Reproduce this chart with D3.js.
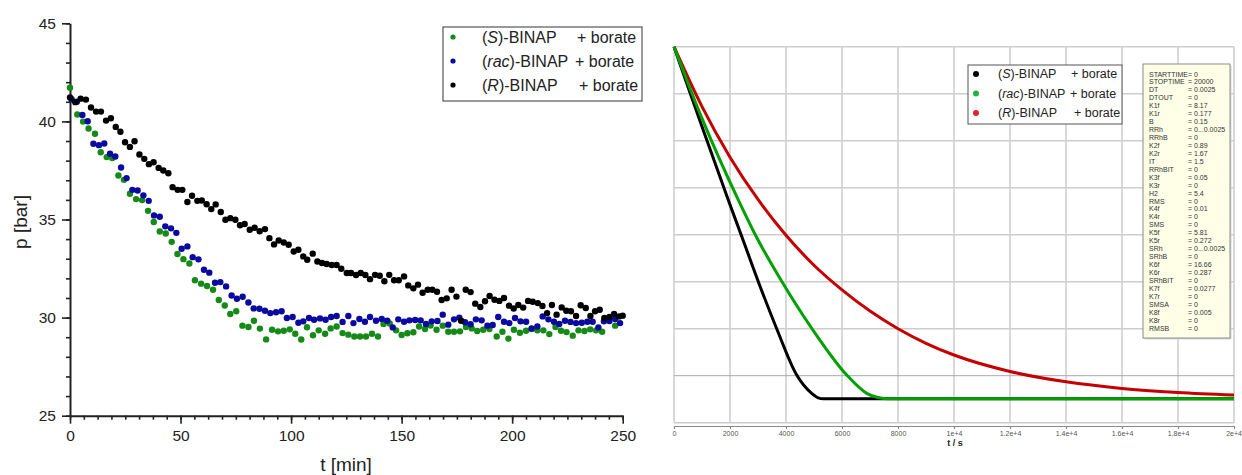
<!DOCTYPE html>
<html>
<head>
<meta charset="utf-8">
<script src="https://cdn.jsdelivr.net/npm/d3@7"></script>
<style>
    body { margin: 0; background: #fff; }
    svg { display: block; font-family: "Liberation Sans", Arial, sans-serif; }
</style>
</head>
<body>
<div id="chart"></div>
<script>
// ---- measured pressure, [t (min), p (bar)] ----
const sBinap = [
    [0, 41.72], [3.3, 40.35], [5.9, 39.99], [8.4, 39.64], [11.3, 39.37], [13.9, 38.43], [16.6, 38.18],
    [19.1, 38.13], [21.9, 37.24], [24.4, 37.02], [27.1, 36.31], [29.9, 36.04], [32.6, 35.99], [35.3, 35.44],
    [37.9, 34.87], [40.6, 34.39], [43.3, 34.29], [46.0, 33.86], [48.6, 33.24], [51.3, 32.98], [54.0, 32.76],
    [56.5, 31.90], [59.3, 31.73], [62.0, 31.61], [64.7, 31.42], [67.3, 30.90], [70.0, 30.62], [72.5, 30.18],
    [75.2, 30.32], [78.0, 29.59], [80.7, 29.52], [83.2, 29.84], [85.9, 29.44], [88.7, 28.89], [91.4, 29.38],
    [94.1, 29.30], [96.7, 29.33], [99.4, 29.40], [101.9, 29.18], [104.6, 28.88], [107.2, 29.51], [109.9, 29.10],
    [112.5, 29.35], [115.4, 29.18], [117.9, 29.45], [120.6, 29.55], [123.3, 29.21], [125.9, 29.13], [128.6, 29.04],
    [131.2, 29.04], [133.9, 29.04], [136.6, 29.18], [139.3, 29.04], [141.8, 29.68], [144.6, 29.70], [147.5, 29.35],
    [150.0, 29.11], [152.6, 29.20], [155.3, 29.25], [157.9, 29.55], [160.6, 29.42], [163.1, 29.60], [165.8, 29.38],
    [168.6, 29.59], [171.1, 29.28], [173.7, 29.28], [176.4, 29.30], [179.1, 29.52], [181.7, 29.45], [184.2, 29.32],
    [186.9, 29.38], [189.7, 29.42], [193.0, 29.04], [195.6, 29.28], [198.3, 28.93], [200.8, 29.38], [203.5, 29.23],
    [206.3, 29.33], [208.8, 29.42], [211.4, 29.35], [214.1, 29.35], [216.8, 29.16], [219.6, 29.52], [222.1, 29.33],
    [224.6, 29.26], [227.4, 29.08], [230.0, 29.35], [232.7, 29.32], [235.3, 29.40], [238.0, 29.35], [240.7, 29.28],
    [246.6, 29.59]
];

const racBinap = [
    [0.75, 41.13], [3.1, 41.0], [5.6, 40.33], [8.0, 40.01], [10.6, 38.86], [13.1, 38.79], [15.5, 38.87],
    [18.1, 38.35], [20.5, 38.21], [23.1, 37.65], [25.6, 37.11], [28.2, 36.51], [30.6, 36.48], [33.2, 36.23],
    [35.6, 35.95], [38.0, 35.21], [40.6, 35.14], [43.1, 34.65], [45.7, 34.55], [48.1, 34.32], [50.5, 33.51],
    [53.1, 33.63], [55.5, 33.08], [58.1, 32.97], [60.6, 32.44], [63.0, 32.29], [65.6, 31.78], [68.0, 31.81],
    [70.6, 31.59], [73.1, 31.13], [75.5, 30.96], [78.1, 31.06], [80.7, 30.77], [83.1, 30.47], [85.7, 30.45],
    [88.2, 30.35], [90.6, 30.23], [93.2, 30.27], [95.7, 30.32], [98.1, 29.98], [100.7, 30.03], [103.3, 29.74],
    [105.5, 29.81], [108.1, 29.98], [110.4, 29.89], [113.1, 29.96], [115.6, 29.89], [118.1, 30.03], [120.6, 30.08],
    [123.3, 29.78], [125.9, 30.08], [128.2, 29.72], [130.9, 29.93], [133.4, 29.79], [135.7, 30.03], [138.4, 29.84],
    [141.0, 29.93], [143.5, 29.84], [146.0, 29.50], [148.5, 29.91], [151.1, 29.79], [153.5, 29.86], [156.1, 29.88],
    [158.6, 29.86], [161.0, 29.67], [163.6, 29.81], [166.2, 29.83], [168.6, 30.15], [171.1, 29.64], [173.7, 29.91],
    [176.1, 30.00], [178.7, 29.76], [181.2, 29.66], [183.6, 29.91], [186.2, 29.86], [188.8, 29.59], [191.2, 29.62],
    [193.7, 30.03], [196.3, 29.79], [198.7, 29.72], [201.3, 29.98], [203.8, 29.81], [206.3, 29.79], [208.8, 29.45],
    [211.4, 29.55], [213.8, 30.06], [216.4, 29.91], [218.9, 29.79], [221.3, 29.67], [223.9, 29.84], [226.4, 29.78],
    [228.9, 29.72], [231.5, 29.74], [234.0, 29.79], [236.4, 29.79], [239.0, 29.50], [241.5, 29.81], [244.0, 29.83],
    [246.6, 29.93], [248.8, 29.72]
];

const rBinap = [
    [0, 41.22], [2.4, 40.98], [4.8, 41.16], [7.2, 41.11], [9.5, 40.71], [11.8, 40.50], [14.0, 40.50],
    [16.3, 40.04], [18.5, 40.16], [20.7, 39.72], [22.8, 39.47], [24.9, 38.94], [27.1, 38.70], [29.2, 38.99],
    [31.4, 38.31], [33.6, 38.09], [35.7, 37.82], [37.8, 37.92], [40.1, 37.63], [42.2, 37.50], [44.5, 37.36],
    [46.4, 36.65], [48.7, 36.51], [50.8, 36.51], [53.1, 35.89], [55.2, 36.21], [57.6, 35.95], [59.6, 35.97],
    [61.8, 35.78], [63.9, 35.53], [65.9, 35.77], [68.2, 35.38], [70.3, 34.99], [72.5, 35.07], [74.8, 34.99],
    [76.9, 34.71], [79.0, 34.77], [81.3, 34.48], [83.5, 34.58], [85.8, 34.40], [88.2, 34.51], [90.2, 34.05],
    [92.3, 33.73], [94.4, 33.93], [96.7, 33.83], [98.9, 33.71], [101.2, 33.37], [103.3, 33.46], [105.5, 33.12],
    [107.3, 32.95], [109.8, 33.26], [111.9, 32.86], [114.0, 32.78], [116.1, 32.73], [118.4, 32.68], [120.6, 32.68],
    [122.7, 32.49], [125.2, 32.27], [127.1, 32.27], [129.4, 32.17], [131.5, 32.27], [133.6, 32.17], [135.7, 31.96],
    [138.0, 32.18], [140.1, 32.13], [142.2, 31.85], [144.4, 32.18], [146.6, 31.90], [148.7, 31.90], [151.1, 32.10],
    [153.0, 31.64], [155.3, 31.49], [157.4, 31.68], [159.5, 31.27], [161.8, 31.42], [163.9, 31.42], [166.0, 31.32],
    [168.1, 30.90], [170.4, 30.98], [172.6, 31.42], [174.8, 31.07], [176.9, 29.84], [179.0, 31.42], [181.2, 31.30],
    [183.3, 30.71], [185.6, 30.54], [187.7, 30.83], [189.8, 31.10], [192.0, 30.91], [194.2, 30.85], [196.3, 31.00],
    [198.6, 30.61], [200.7, 30.46], [202.8, 30.64], [205.0, 30.51], [207.2, 30.85], [209.3, 30.81], [211.6, 30.74],
    [213.7, 30.59], [215.8, 30.23], [218.0, 30.64], [220.1, 30.15], [222.4, 30.52], [224.5, 30.35], [226.6, 30.32],
    [228.9, 30.08], [231.0, 30.63], [233.3, 30.49], [235.4, 30.08], [237.5, 30.32], [239.6, 30.40], [241.7, 29.98],
    [244.0, 30.03], [246.1, 30.18], [248.4, 30.06], [250, 30.10]
];

// ---- simulated pressure, [t (s), p] ----
const simS = [[0, 44], [500, 42.28], [1000, 40.6], [1939, 37.48], [2476, 35.74], [3011, 34.0], [3668, 32.0],
    [4382, 30.03], [4917, 29.25], [5150, 29.06], [5333, 29.02], [20000, 29.02]];
const simRac = [[0, 44], [1000, 40.95], [2296, 37.48], [2893, 36.02], [3846, 34.02], [4918, 32.02], [6168, 30.03],
    [6882, 29.25], [7250, 29.08], [7600, 29.02], [20000, 29.02]];
const simR = [[0, 44], [1000, 41.45], [2000, 39.3], [3000, 37.5], [4000, 35.98], [5000, 34.7], [6000, 33.65],
    [7000, 32.75], [8000, 32.0], [9000, 31.38], [10000, 30.88], [12000, 30.18], [14000, 29.74], [16000, 29.46],
    [18000, 29.29], [20000, 29.18]];

const simTicks = [0, 2000, 4000, 6000, 8000, 10000, 12000, 14000, 16000, 18000, 20000];
const simTickLabels = ["0", "2000", "4000", "6000", "8000", "1e+4", "1.2e+4", "1.4e+4", "1.6e+4", "1.8e+4", "2e+4"];

const paramNames = ["STARTTIME", "STOPTIME", "DT", "DTOUT", "K1f", "K1r", "B", "RRh", "RRhB", "K2f", "K2r", "IT",
    "RRhBIT", "K3f", "K3r", "H2", "RMS", "K4f", "K4r", "SMS", "K5f", "K5r", "SRh", "SRhB", "K6f", "K6r", "SRhBIT",
    "K7f", "K7r", "SMSA", "K8f", "K8r", "RMSB"];
const paramValues = ["= 0", "= 20000", "= 0.0025", "= 0", "= 8.17", "= 0.177", "= 0.15", "= 0...0.0025", "= 0",
    "= 0.89", "= 1.67", "= 1.5", "= 0", "= 0.05", "= 0", "= 5.4", "= 0", "= 0.01", "= 0", "= 0", "= 5.81",
    "= 0.272", "= 0...0.0025", "= 0", "= 16.66", "= 0.287", "= 0", "= 0.0277", "= 0", "= 0", "= 0.005", "= 0", "= 0"];

const legendLabels = [
    { pre: "(", it: "S", post: ")-BINAP", tail: "+ borate" },
    { pre: "(", it: "rac", post: ")-BINAP", tail: "+ borate" },
    { pre: "(", it: "R", post: ")-BINAP", tail: "+ borate" }
];

const width = 1242, height = 475;

const svg = d3.select("#chart")
    .append("svg")
    .attr("width", width)
    .attr("height", height);

/***********************************/
/* Left panel: measured scatter    */
/***********************************/
const xL = d3.scaleLinear().domain([0, 250]).range([70, 622.7]);
const yL = d3.scaleLinear().domain([25, 45]).range([415.7, 23.3]);

const left = svg.append("g");

// minor ticks
left.append("g")
    .attr("transform", `translate(0,${yL(25)})`)
    .call(d3.axisBottom(xL).tickValues(d3.range(0, 250.1, 6.25)).tickSize(4).tickFormat(""))
    .call(g => g.select(".domain").remove());
left.append("g")
    .attr("transform", `translate(${xL(0)},0)`)
    .call(d3.axisLeft(yL).tickValues(d3.range(25, 45.1, 1)).tickSize(4).tickFormat(""))
    .call(g => g.select(".domain").remove());

// major ticks + labels
left.append("g")
    .attr("transform", `translate(0,${yL(25)})`)
    .call(d3.axisBottom(xL).tickValues([0, 50, 100, 150, 200, 250]).tickSize(8).tickPadding(6).tickSizeOuter(0));
left.append("g")
    .attr("transform", `translate(${xL(0)},0)`)
    .call(d3.axisLeft(yL).tickValues([25, 30, 35, 40, 45]).tickSize(8).tickPadding(6).tickSizeOuter(0));

left.selectAll(".tick line").attr("stroke", "#222").attr("stroke-width", 1.6);
left.selectAll(".domain").attr("stroke", "#222").attr("stroke-width", 2);
left.selectAll(".tick text").attr("font-size", 15.5).attr("fill", "#222")
    .attr("font-family", "Liberation Sans, Arial, sans-serif");

// axis titles
svg.append("text")
    .text("t [min]")
    .attr("x", 346).attr("y", 471)
    .attr("text-anchor", "middle")
    .attr("font-size", 19).attr("fill", "#222");
svg.append("text")
    .text("p [bar]")
    .attr("transform", "rotate(-90)")
    .attr("x", -222).attr("y", 27)
    .attr("text-anchor", "middle")
    .attr("font-size", 19).attr("fill", "#222");

// points (green under blue under black)
const seriesL = [
    { data: sBinap, color: "#168a16" },
    { data: racBinap, color: "#0a0aa0" },
    { data: rBinap, color: "#000000" }
];
seriesL.forEach(s => {
    left.append("g").selectAll("circle")
        .data(s.data)
        .join("circle")
        .attr("cx", d => xL(d[0]))
        .attr("cy", d => yL(d[1]))
        .attr("r", 3.2)
        .attr("fill", s.color);
});

// legend
const legL = svg.append("g").attr("transform", "translate(443,27)");
legL.append("rect")
    .attr("width", 199).attr("height", 74)
    .attr("fill", "#fff").attr("stroke", "#555").attr("stroke-width", 1.2);
const tailXL = [134, 132, 136];
legendLabels.forEach((lab, i) => {
    const cy = 10 + i * 24;
    legL.append("circle").attr("cx", 10).attr("cy", cy).attr("r", 2.6).attr("fill", seriesL[i].color);
    const t = legL.append("text").attr("x", 39).attr("y", cy + 5.7).attr("font-size", 16).attr("fill", "#222");
    t.append("tspan").text(lab.pre);
    t.append("tspan").text(lab.it).attr("font-style", "italic");
    t.append("tspan").text(lab.post);
    legL.append("text").attr("x", tailXL[i]).attr("y", cy + 5.7).attr("font-size", 16).attr("fill", "#222")
        .text(lab.tail);
});

/***********************************/
/* Right panel: simulation         */
/***********************************/
const xR = d3.scaleLinear().domain([0, 20000]).range([674, 1234]);
const yR = d3.scaleLinear().domain([28, 44]).range([422.7, 46.7]);

const right = svg.append("g");

// grid
right.append("g").selectAll("line")
    .data(simTicks)
    .join("line")
    .attr("x1", d => xR(d)).attr("x2", d => xR(d))
    .attr("y1", yR(44)).attr("y2", yR(28))
    .attr("stroke", "#cdcdcd").attr("stroke-width", 1.5);
right.append("g").selectAll("line")
    .data(d3.range(28, 44.1, 2))
    .join("line")
    .attr("x1", xR(0)).attr("x2", xR(20000))
    .attr("y1", d => yR(d)).attr("y2", d => yR(d))
    .attr("stroke", d => d === 30 ? "#a8a8a8" : "#cdcdcd")
    .attr("stroke-width", d => d === 30 ? 1 : 1.5);

// bottom axis
const xAxisR = right.append("g")
    .attr("transform", "translate(0,426)")
    .call(d3.axisBottom(xR).tickValues(simTicks).tickSize(3).tickPadding(2).tickSizeOuter(0)
        .tickFormat((d, i) => simTickLabels[i]));
xAxisR.selectAll(".domain, .tick line").attr("stroke", "#8a8a8a").attr("stroke-width", 1.2);
xAxisR.selectAll(".tick text").attr("font-size", 7).attr("fill", "#555")
    .attr("font-family", "Liberation Sans, Arial, sans-serif");
// last label sits against the page edge
xAxisR.selectAll(".tick text").filter(d => d === 20000)
    .attr("text-anchor", "end").attr("x", 7.5);

svg.append("text")
    .text("t / s")
    .attr("x", 955).attr("y", 446)
    .attr("text-anchor", "middle")
    .attr("font-size", 9).attr("font-weight", "bold").attr("fill", "#222");

// curves
const lineR = d3.line()
    .x(d => xR(d[0]))
    .y(d => yR(d[1]))
    .curve(d3.curveMonotoneX);
const seriesR = [
    { data: simS, color: "#000000" },
    { data: simR, color: "#c40000" },
    { data: simRac, color: "#00a000" }
];
seriesR.forEach(s => {
    right.append("path")
        .datum(s.data)
        .attr("d", lineR)
        .attr("fill", "none")
        .attr("stroke", s.color)
        .attr("stroke-width", 3)
        .attr("stroke-linejoin", "round");
});

// legend
const legR = svg.append("g").attr("transform", "translate(968,65)");
legR.append("rect")
    .attr("width", 154).attr("height", 59)
    .attr("fill", "#fff").attr("stroke", "#555").attr("stroke-width", 1);
const legColorsR = ["#000000", "#22b33c", "#e2202c"];
const tailXR = [103, 102, 106];
legendLabels.forEach((lab, i) => {
    const cy = 9 + i * 19.5;
    legR.append("circle").attr("cx", 8).attr("cy", cy).attr("r", 3).attr("fill", legColorsR[i]);
    const t = legR.append("text").attr("x", 30).attr("y", cy + 4.4).attr("font-size", 12.5).attr("fill", "#222");
    t.append("tspan").text(lab.pre);
    t.append("tspan").text(lab.it).attr("font-style", "italic");
    t.append("tspan").text(lab.post);
    legR.append("text").attr("x", tailXR[i]).attr("y", cy + 4.4).attr("font-size", 12.5).attr("fill", "#222")
        .text(lab.tail);
});

// parameter box
const box = svg.append("g").attr("transform", "translate(1143,64)");
box.append("rect")
    .attr("x", 1.5).attr("y", 1.5).attr("width", 87).attr("height", 274)
    .attr("fill", "#d8d8d8");
box.append("rect")
    .attr("width", 87).attr("height", 274)
    .attr("fill", "#ffffe8").attr("stroke", "#8a8a8a").attr("stroke-width", 1);
paramNames.forEach((name, i) => {
    const y = 12.5 + i * 7.94;
    box.append("text").attr("x", 6).attr("y", y).attr("font-size", 7).attr("fill", "#333").text(name);
    box.append("text").attr("x", 45).attr("y", y).attr("font-size", 7).attr("fill", "#333").text(paramValues[i]);
});
</script>
</body>
</html>
